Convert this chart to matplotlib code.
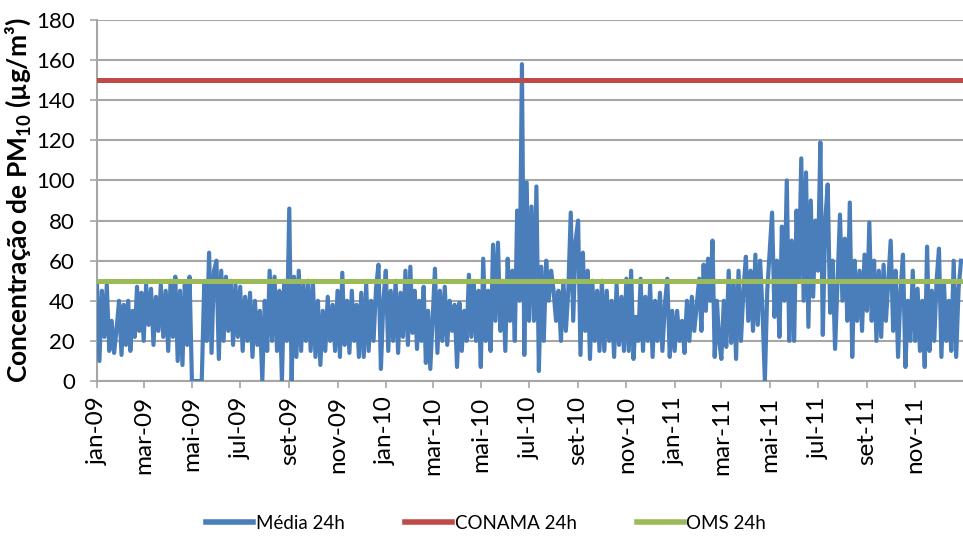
import matplotlib
matplotlib.use("Agg")
import matplotlib.pyplot as plt
import matplotlib.dates as mdates
from matplotlib.lines import Line2D
from matplotlib.ticker import FuncFormatter
import numpy as np
import pandas as pd

plt.rcParams.update({
    "font.family": ["Lato", "DejaVu Sans"],
    "mathtext.fontset": "custom",
    "mathtext.rm": "Lato",
    "mathtext.bf": "Lato:bold",
})

# PM10 24h means, ~10 samples per month (jan..dez)
pm10_2009 = [
    48, 10, 45, 22, 48, 15, 30, 14, 26, 40,
    13, 38, 18, 40, 15, 35, 22, 47, 25, 44,
    20, 48, 28, 46, 18, 42, 25, 48, 22, 45,
    15, 50, 22, 52, 10, 45, 8, 48, 18, 52,
    0, 0, 0, 0, 0, 48, 20, 64, 14, 55,
    60, 11, 55, 20, 52, 25, 50, 18, 48, 22,
    47, 15, 42, 20, 44, 12, 40, 18, 35, 0,
    40, 15, 55, 20, 52, 15, 45, 0, 50, 20,
    86, 0, 52, 12, 55, 15, 48, 20, 50, 15,
    48, 12, 40, 8, 35, 15, 42, 20, 38, 15,
    45, 12, 54, 18, 40, 14, 45, 20, 38, 12,
    44, 12, 48, 15, 40, 20, 46, 58, 6, 40,
]
pm10_2010 = [
    55, 15, 45, 20, 50, 14, 44, 22, 55, 18,
    57, 24, 45, 16, 40, 20, 47, 9, 35, 6,
    30, 56, 14, 45, 20, 47, 18, 40, 25, 38,
    7, 39, 15, 35, 20, 53, 22, 50, 20, 45,
    7, 61, 20, 45, 15, 68, 30, 69, 25, 50,
    15, 61, 30, 55, 20, 85, 40, 158, 13, 99,
    30, 87, 30, 97, 5, 57, 20, 60, 40, 55,
    45, 30, 45, 20, 50, 25, 45, 84, 30, 70,
    80, 13, 64, 25, 55, 11, 50, 20, 45, 15,
    50, 15, 45, 20, 40, 12, 48, 18, 42, 15,
    51, 15, 55, 11, 32, 20, 51, 15, 42, 20,
    48, 12, 40, 20, 44, 15, 38, 51, 12, 35,
]
pm10_2011 = [
    15, 35, 20, 30, 14, 40, 20, 42, 25, 38,
    51, 25, 58, 35, 61, 40, 70, 12, 40, 20,
    11, 40, 17, 55, 19, 50, 11, 55, 20, 45,
    62, 30, 55, 25, 63, 28, 60, 35, 0, 45,
    64, 84, 32, 60, 22, 77, 40, 100, 20, 70,
    20, 85, 50, 111, 40, 104, 27, 90, 42, 80,
    55, 119, 23, 80, 98, 34, 60, 16, 50, 83,
    40, 71, 30, 89, 12, 60, 30, 55, 25, 63,
    35, 79, 30, 60, 20, 55, 22, 58, 30, 50,
    70, 25, 55, 12, 45, 63, 7, 40, 20, 55,
    20, 46, 15, 40, 7, 67, 15, 45, 20, 50,
    66, 12, 50, 20, 40, 15, 60, 12, 46, 60,
]
conama_24h = 150
oms_24h = 50
month_abbr = ["jan", "fev", "mar", "abr", "mai", "jun",
              "jul", "ago", "set", "out", "nov", "dez"]
series_names = ["Média 24h", "CONAMA 24h", "OMS 24h"]

BLUE = "#4A7EBB"
RED = "#BE4B48"
GREEN = "#9BBB59"
GRID = "#A6A6A6"

values = pm10_2009 + pm10_2010 + pm10_2011
samples_per_month = 10
dates = []
for m in pd.date_range("2009-01-01", periods=36, freq="MS"):
    offs = np.linspace(0, m.days_in_month, samples_per_month, endpoint=False)
    dates.extend(m + pd.to_timedelta(offs, unit="D"))

fig = plt.figure(figsize=(9.63, 5.38), dpi=100)
ax = fig.add_axes([0.1007, 0.2918, 0.899, 0.671])

ax.plot(dates, values, color=BLUE, lw=3.0, zorder=3)
ax.axhline(conama_24h, color=RED, lw=3.6, zorder=4)
ax.axhline(oms_24h, color=GREEN, lw=3.6, zorder=5)

ax.set_xlim(pd.Timestamp("2009-01-01"), pd.Timestamp("2011-12-31"))
ax.set_ylim(0, 180)
ax.set_yticks(range(0, 181, 20))
ax.yaxis.grid(True, color=GRID, lw=1.5)
ax.set_axisbelow(True)
for s in ["top", "right"]:
    ax.spines[s].set_visible(False)
for s in ["left", "bottom"]:
    ax.spines[s].set_color(GRID)
    ax.spines[s].set_linewidth(1.5)
    ax.spines[s].set_zorder(1)

ax.xaxis.set_major_locator(mdates.MonthLocator(bymonth=[1, 3, 5, 7, 9, 11]))
ax.xaxis.set_major_formatter(FuncFormatter(
    lambda x, pos: "%s-%s" % (month_abbr[mdates.num2date(x).month - 1],
                              mdates.num2date(x).strftime("%y"))))
ax.tick_params(axis="both", direction="out", length=5, width=1.2,
               color=GRID, labelcolor="black")
ax.tick_params(axis="y", pad=11, labelsize=16)
ax.tick_params(axis="x", pad=6, labelsize=17.5)
plt.setp(ax.get_xticklabels(), rotation=90)

ax.set_ylabel(r"Concentração de PM$_{\mathbf{10}}$ (µg/m³)",
              fontsize=19, fontweight="bold")
ax.yaxis.set_label_coords(-0.074, 0.5)

handles = [Line2D([], [], color=c, lw=4) for c in (BLUE, RED, GREEN)]
fig.legend(handles, series_names, loc="lower center",
           bbox_to_anchor=(0.505, -0.02), ncol=3, frameon=False,
           fontsize=13.5, handlelength=2.5, handletextpad=0.15,
           columnspacing=3.2)

fig.savefig("out.png", dpi=100)
